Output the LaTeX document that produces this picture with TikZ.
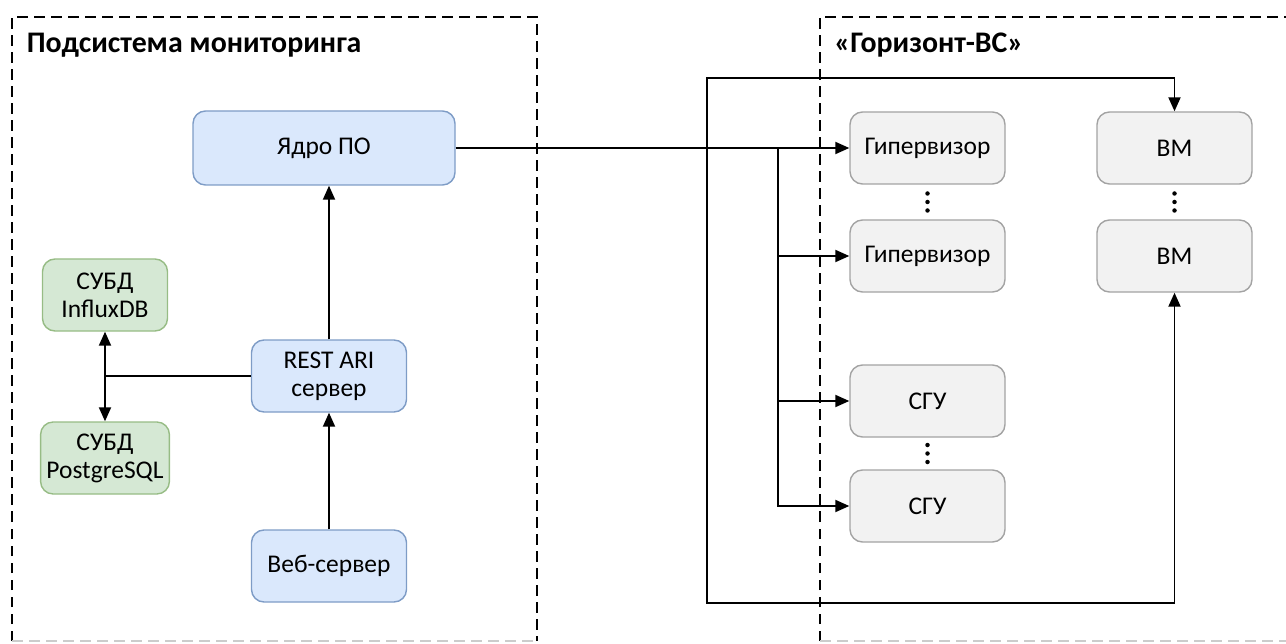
\documentclass[tikz,border=0pt]{standalone}
\usepackage{fontspec}
\setmainfont{Carlito}
\usepackage{tikz}
\usetikzlibrary{arrows.meta, positioning, calc}

\definecolor{coreFill}{HTML}{DAE8FC}
\definecolor{coreLine}{HTML}{7E9CC6}
\definecolor{dbFill}{HTML}{D5E8D4}
\definecolor{dbLine}{HTML}{97BC85}
\definecolor{hwFill}{HTML}{F2F2F2}
\definecolor{hwLine}{HTML}{A3A3A3}

\begin{document}
\begin{tikzpicture}[>={Triangle[length=2.8mm,width=2.4mm]}, line width=1.1pt, on grid,
		box/.style={rounded corners=0.25cm, line width=0.8pt, minimum width=3.1cm, minimum height=1.44cm, align=center, font=\fontsize{14.5}{16}\selectfont},
		core/.style={box, fill=coreFill, draw=coreLine},
		db/.style={box, fill=dbFill, draw=dbLine, minimum width=2.5cm},
		hw/.style={box, fill=hwFill, draw=hwLine},
		frame/.style={dashed, dash pattern=on 0.21cm off 0.13cm, line width=1.1pt},
		title/.style={anchor=west, font=\fontsize{17}{19}\selectfont\bfseries}]
		\useasboundingbox (0,0) rectangle (25.72,-12.88);
		% frames
		\draw[frame] (0.24,-12.82) -- (0.24,-0.34) -- (10.74,-0.34) -- (10.74,-12.82);
		\draw[frame] (16.4,-12.82) -- (16.4,-0.34) -- (25.72,-0.34);
		\draw[frame, gray!40, line width=0.6pt] (0.24,-12.82) -- (10.74,-12.82);
		\draw[frame, gray!40, line width=0.6pt] (16.4,-12.82) -- (25.72,-12.82);
		\node[title] (monT) at (0.4,-0.9) {Подсистема мониторинга};
		\node[title] (horT) at (16.55,-0.9) {«Горизонт-ВС»};
		% monitoring
		\node[core, minimum width=5.24cm, minimum height=1.48cm] (yadro) at (6.48,-2.96) {Ядро ПО};
		\node[core] (rest) at (6.58,-7.52) {REST ARI\\сервер};
		\node[core] (web) [below=3.8cm of rest] {Веб-сервер};
		\node[db] (influx) at (2.1,-5.9) {СУБД\\InfluxDB};
		\node[db] (postgres) [below=3.26cm of influx] {СУБД\\PostgreSQL};
		% horizont
		\node[hw] (gip1) at (18.55,-2.96) {Гипервизор};
		\node[hw] (gip2) [below=2.16cm of gip1] {Гипервизор};
		\node[hw] (sgu1) [below=2.9cm of gip2] {СГУ};
		\node[hw] (sgu2) [below=2.1cm of sgu1] {СГУ};
		\node[hw] (vm1) [right=4.94cm of gip1] {ВМ};
		\node[hw] (vm2) [right=4.94cm of gip2] {ВМ};
		\coordinate (dotsG) at ($(gip1)!0.5!(gip2)$);
		\coordinate (dotsS) at ($(sgu1)!0.5!(sgu2)$);
		\coordinate (dotsV) at ($(vm1)!0.5!(vm2)$);
		\foreach \d in {dotsG, dotsS, dotsV}
			\foreach \k in {-1,0,1}
				\fill ($(\d)+(0,\k*0.17)$) circle (0.045);
		\coordinate (br) at (15.56,0);
		\coordinate (loopT) at (14.14,-1.56);
		\coordinate (loopB) at (14.14,-12.06);
		% links
		\draw[->] (web) -- (rest);
		\draw[->] (rest) -- (rest |- yadro.south);
		\draw (rest) -- (rest -| influx);
		\draw[<->] (influx) -- (postgres);
		\draw[->] (yadro) -- (gip1);
		\draw[->] (br |- gip1) |- (gip2);
		\draw[->] (br |- gip1) |- (sgu1);
		\draw[->] (br |- gip1) |- (sgu2);
		\draw[<->] (vm1) |- (loopT) -- (loopB) -| (vm2);
\end{tikzpicture}
\end{document}
